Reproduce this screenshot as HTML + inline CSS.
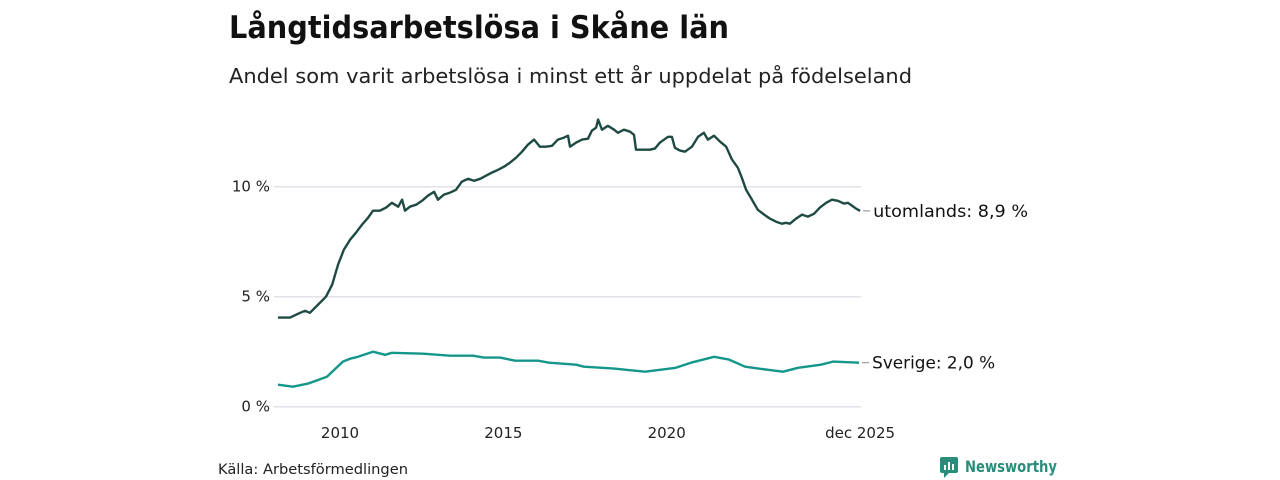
<!DOCTYPE html>
<html><head><meta charset="utf-8"><style>
body{margin:0;width:1280px;height:480px;background:#fff;font-family:"Liberation Sans","DejaVu Sans",sans-serif;overflow:hidden}
svg{position:absolute;left:0;top:0}
</style></head><body>
<svg width="1280" height="480" font-family="'DejaVu Sans','Liberation Sans',sans-serif">
<text x="229" y="38" font-size="31" font-weight="bold" fill="#111" textLength="500" lengthAdjust="spacingAndGlyphs">Långtidsarbetslösa i Skåne län</text>
<text x="229" y="83" font-size="20" fill="#222" textLength="683" lengthAdjust="spacingAndGlyphs">Andel som varit arbetslösa i minst ett år uppdelat på födelseland</text>
<g id="grid"></g><g id="lines"></g><g id="labels"></g>
<text x="218" y="474" font-size="14" fill="#222" textLength="190" lengthAdjust="spacingAndGlyphs">Källa: Arbetsförmedlingen</text>
<g>
<rect x="940" y="457" width="18" height="16" rx="2" fill="#2a8c7a"/>
<path d="M944 473 L944 478 L949 473 Z" fill="#2a8c7a"/>
<rect x="944" y="465" width="2" height="5" fill="#fff"/><rect x="948" y="462" width="2" height="8" fill="#fff"/><rect x="952" y="464" width="2" height="6" fill="#fff"/>
<text x="965" y="472" font-size="16" font-weight="bold" fill="#2a8c7a" textLength="92" lengthAdjust="spacingAndGlyphs">Newsworthy</text>
</g>
</svg>
<script>
const yTicks=[0,5,10];
const yTickLabels=["0 %","5 %","10 %"];
const xTicks=[2010,2015,2020,2025.92];
const xTickLabels=["2010","2015","2020","dec 2025"];
const utDates=[2008.10,2008.47,2008.78,2008.93,2009.08,2009.33,2009.57,2009.76,2009.94,2010.12,2010.31,2010.49,2010.67,2010.86,2011.01,2011.22,2011.41,2011.59,2011.78,2011.90,2011.99,2012.14,2012.33,2012.51,2012.69,2012.88,2013.00,2013.18,2013.37,2013.55,2013.73,2013.92,2014.10,2014.29,2014.47,2014.65,2014.84,2015.02,2015.20,2015.39,2015.57,2015.75,2015.94,2016.12,2016.31,2016.49,2016.67,2016.86,2016.98,2017.04,2017.22,2017.41,2017.59,2017.71,2017.84,2017.90,2018.02,2018.20,2018.39,2018.51,2018.69,2018.88,2019.00,2019.06,2019.24,2019.49,2019.64,2019.79,2020.04,2020.16,2020.25,2020.41,2020.56,2020.77,2020.96,2021.14,2021.26,2021.45,2021.63,2021.82,2022.00,2022.18,2022.30,2022.43,2022.61,2022.79,2022.98,2023.16,2023.35,2023.53,2023.65,2023.77,2023.96,2024.14,2024.32,2024.51,2024.69,2024.88,2025.06,2025.24,2025.43,2025.55,2025.67,2025.80,2025.92];
const utValues=[4.05,4.05,4.27,4.36,4.27,4.64,5.0,5.55,6.45,7.14,7.59,7.91,8.27,8.59,8.91,8.91,9.05,9.27,9.09,9.41,8.91,9.09,9.18,9.36,9.59,9.77,9.41,9.64,9.73,9.86,10.23,10.36,10.27,10.36,10.5,10.64,10.77,10.91,11.09,11.32,11.59,11.91,12.14,11.82,11.82,11.86,12.14,12.23,12.32,11.82,12.0,12.14,12.18,12.55,12.68,13.05,12.59,12.77,12.59,12.45,12.59,12.5,12.36,11.68,11.68,11.68,11.73,12.0,12.27,12.27,11.77,11.64,11.59,11.82,12.27,12.45,12.14,12.32,12.05,11.82,11.23,10.86,10.41,9.86,9.41,8.95,8.73,8.55,8.41,8.32,8.36,8.32,8.55,8.73,8.64,8.77,9.05,9.27,9.41,9.36,9.23,9.27,9.14,9.0,8.9];
const svDates=[2008.10,2008.56,2009.02,2009.60,2010.09,2010.31,2010.55,2011.01,2011.38,2011.59,2012.54,2013.37,2014.07,2014.41,2014.90,2015.36,2016.06,2016.40,2017.22,2017.47,2018.39,2019.34,2020.28,2020.74,2021.45,2021.91,2022.40,2023.07,2023.56,2024.02,2024.72,2025.09,2025.89];
const svValues=[1.0,0.91,1.05,1.36,2.05,2.18,2.27,2.5,2.36,2.45,2.41,2.32,2.32,2.23,2.23,2.09,2.09,2.0,1.91,1.82,1.73,1.59,1.77,2.0,2.27,2.14,1.82,1.68,1.59,1.77,1.91,2.05,2.0];
const seriesNames=["utomlands","Sverige"];
const lastLabels=["8,9 %","2,0 %"];
const labelWidths=[155,123];

const NS="http://www.w3.org/2000/svg";
const X=t=>340+(t-2010)*32.67;
const Y=v=>406.7-v*22.0;
function mk(tag,attrs,parent){const e=document.createElementNS(NS,tag);for(const k in attrs)e.setAttribute(k,attrs[k]);parent.appendChild(e);return e;}
const grid=document.getElementById('grid'),lines=document.getElementById('lines'),labels=document.getElementById('labels');
yTicks.forEach((v,i)=>{
  const l=mk('line',{x1:274,x2:861,y1:Y(v),y2:Y(v),stroke:'#e2e2e8','stroke-width':1.5},grid);
  
  
  const t=mk('text',{x:270,y:Y(v)+5,'text-anchor':'end','font-size':15,fill:'#222'},labels);
  t.textContent=yTickLabels[i];
  
  
});
xTicks.forEach((v,i)=>{
  const t=mk('text',{x:X(v),y:438,'text-anchor':'middle','font-size':15,fill:'#222'},labels);
  t.textContent=xTickLabels[i];
  
  
});
const sets=[[utDates,utValues,'#1f4a43'],[svDates,svValues,'#14968a']];
sets.forEach((s,k)=>{
  const d=s[0].map((t,i)=>(i?'L':'M')+X(t).toFixed(1)+' '+Y(s[1][i]).toFixed(1)).join(' ');
  const p=mk('path',{d:d,fill:'none',stroke:s[2],'stroke-width':2.4,'stroke-linejoin':'round'},lines);
  
  
  const lv=s[1][s[1].length-1],lx=X(s[0][s[0].length-1]);
  const dash=mk('line',{x1:lx+3,x2:lx+10,y1:Y(lv),y2:Y(lv),stroke:'#888','stroke-width':1},labels);
  
  
  const t=mk('text',{x:lx+13,y:Y(lv)+6,'font-size':17,fill:'#111',textLength:labelWidths[k],lengthAdjust:'spacingAndGlyphs'},labels);
  t.textContent=seriesNames[k]+': '+lastLabels[k];
  
  
});
</script>
</body></html>
